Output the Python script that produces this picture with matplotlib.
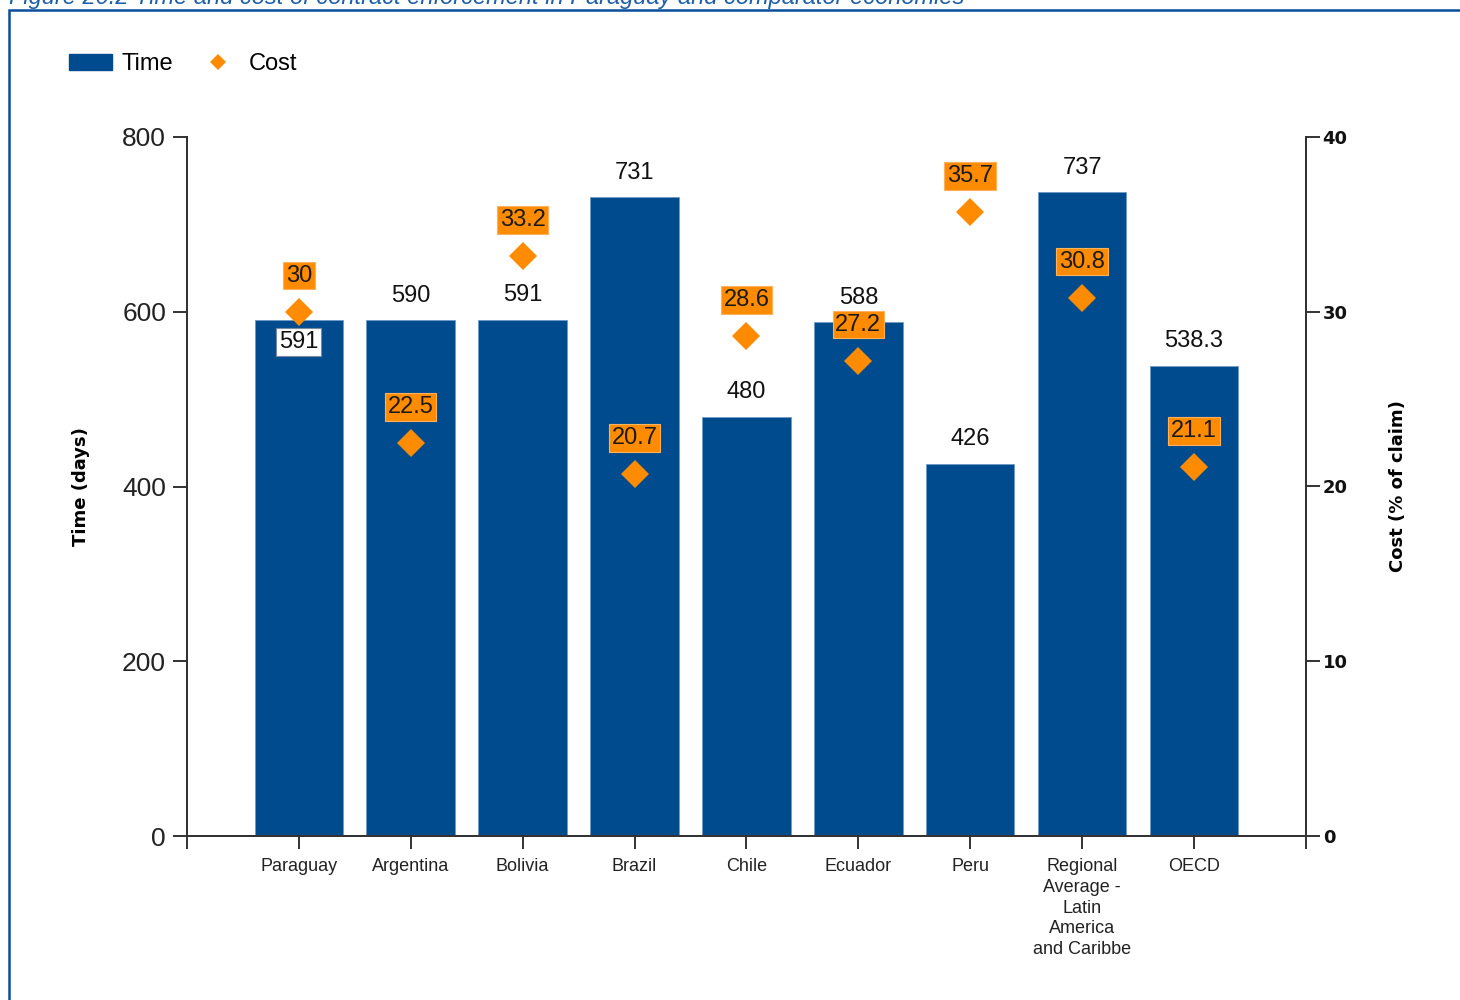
import matplotlib
matplotlib.use("Agg")
import matplotlib.pyplot as plt
from matplotlib.patches import Patch, Rectangle
from matplotlib.lines import Line2D
import numpy as np

# data
countries = ["Paraguay", "Argentina", "Bolivia", "Brazil", "Chile", "Ecuador",
             "Peru", "Regional\nAverage -\nLatin\nAmerica\nand Caribbe", "OECD"]
time_days = [591, 590, 591, 731, 480, 588, 426, 737, 538.3]
time_labels = ["591", "590", "591", "731", "480", "588", "426", "737", "538.3"]
cost_pct = [30, 22.5, 33.2, 20.7, 28.6, 27.2, 35.7, 30.8, 21.1]
cost_labels = ["30", "22.5", "33.2", "20.7", "28.6", "27.2", "35.7", "30.8", "21.1"]

bar_color = "#004B8D"
orange = "#FF8C00"
frame_blue = "#0B4F9C"
axis_color = "#333333"

plt.rcParams["font.family"] = ["Liberation Sans", "DejaVu Sans"]

fig = plt.figure(figsize=(14.6, 10), dpi=100)
ax = fig.add_axes([0.128, 0.164, 0.7665, 0.699])
ax2 = ax.twinx()

x = np.arange(len(countries))
ax.bar(x, time_days, width=0.79, color=bar_color, edgecolor="#6F9BC8",
       linewidth=0.6, zorder=2)

ax.set_xlim(-1, len(countries))
ax.set_ylim(0, 800)
ax.set_yticks([0, 200, 400, 600, 800])
ax2.set_ylim(0, 40)
ax2.set_yticks([0, 10, 20, 30, 40])

# bar value labels
for i, (v, lab) in enumerate(zip(time_days, time_labels)):
    if i == 0:
        ax.annotate(lab, (x[i], v), xytext=(0, -16), textcoords="offset points",
                    ha="center", va="center", fontsize=17, color="#111111",
                    bbox=dict(boxstyle="square,pad=0.12", fc="white",
                              ec="#7A8AA0", lw=0.8), zorder=5)
    else:
        ax.annotate(lab, (x[i], v), xytext=(0, 17.5), textcoords="offset points",
                    ha="center", va="center", fontsize=17, color="#111111")

# cost diamonds + labels
ax2.plot(x, cost_pct, linestyle="none", marker="D", markersize=14,
         color=orange, markeredgewidth=0, zorder=4)
for i, (c, lab) in enumerate(zip(cost_pct, cost_labels)):
    ax2.annotate(lab, (x[i], c), xytext=(0, 26), textcoords="offset points",
                 ha="center", va="center", fontsize=17, color="#1A1A1A",
                 bbox=dict(boxstyle="square,pad=0.12", fc=orange,
                           ec="#FFB060", lw=0.8), zorder=5)

# spines / ticks
for a in (ax, ax2):
    a.spines["top"].set_visible(False)
    for s in ("left", "right", "bottom"):
        a.spines[s].set_color(axis_color)
        a.spines[s].set_linewidth(1.4)

ax.set_xticks(x)
ax.set_xticklabels(countries, fontsize=13, color="#222222", linespacing=1.28,
                   va="top")
ax.set_xticks([-1, len(countries)], minor=True)
ax.tick_params(axis="x", which="both", direction="out", length=9, width=1.4,
               color=axis_color, pad=7)
ax.tick_params(axis="y", direction="out", length=10, width=1.4,
               color=axis_color, labelsize=19, pad=5, labelcolor="#222222")
ax2.tick_params(axis="y", direction="out", length=10, width=1.4,
                color=axis_color, labelsize=13, pad=2, labelcolor="#111111")
for t in ax2.get_yticklabels():
    t.set_fontweight("bold")
    t.set_family("DejaVu Sans")

ax.set_ylabel("Time (days)", fontsize=13, fontweight="bold",
              family="DejaVu Sans", labelpad=23)
ax2.set_ylabel("Cost (% of claim)", fontsize=13, fontweight="bold",
               family="DejaVu Sans", labelpad=30)

# legend
handles = [Patch(facecolor=bar_color, edgecolor=bar_color, label="Time"),
           Line2D([], [], linestyle="none", marker="D", markersize=8,
                  color=orange, markeredgewidth=0, label="Cost")]
fig.legend(handles=handles, loc="upper left", bbox_to_anchor=(0.033, 0.968),
           ncol=2, frameon=False, fontsize=17, handlelength=1.8,
           handleheight=0.65, handletextpad=0.4, columnspacing=1.0)

# page title (cut at top, as in the source page) and blue frame
fig.text(0.006, 0.996, "Figure 20.2 Time and cost of contract enforcement in "
         "Paraguay and comparator economies", ha="left", va="baseline",
         fontsize=17, style="italic", color="#1F5FA8")
fig.patches.append(Rectangle((0.0065, -0.05), 1.1, 1.04, transform=fig.transFigure,
                             fill=False, ec=frame_blue, lw=1.8))

fig.savefig("out.png", dpi=100)
